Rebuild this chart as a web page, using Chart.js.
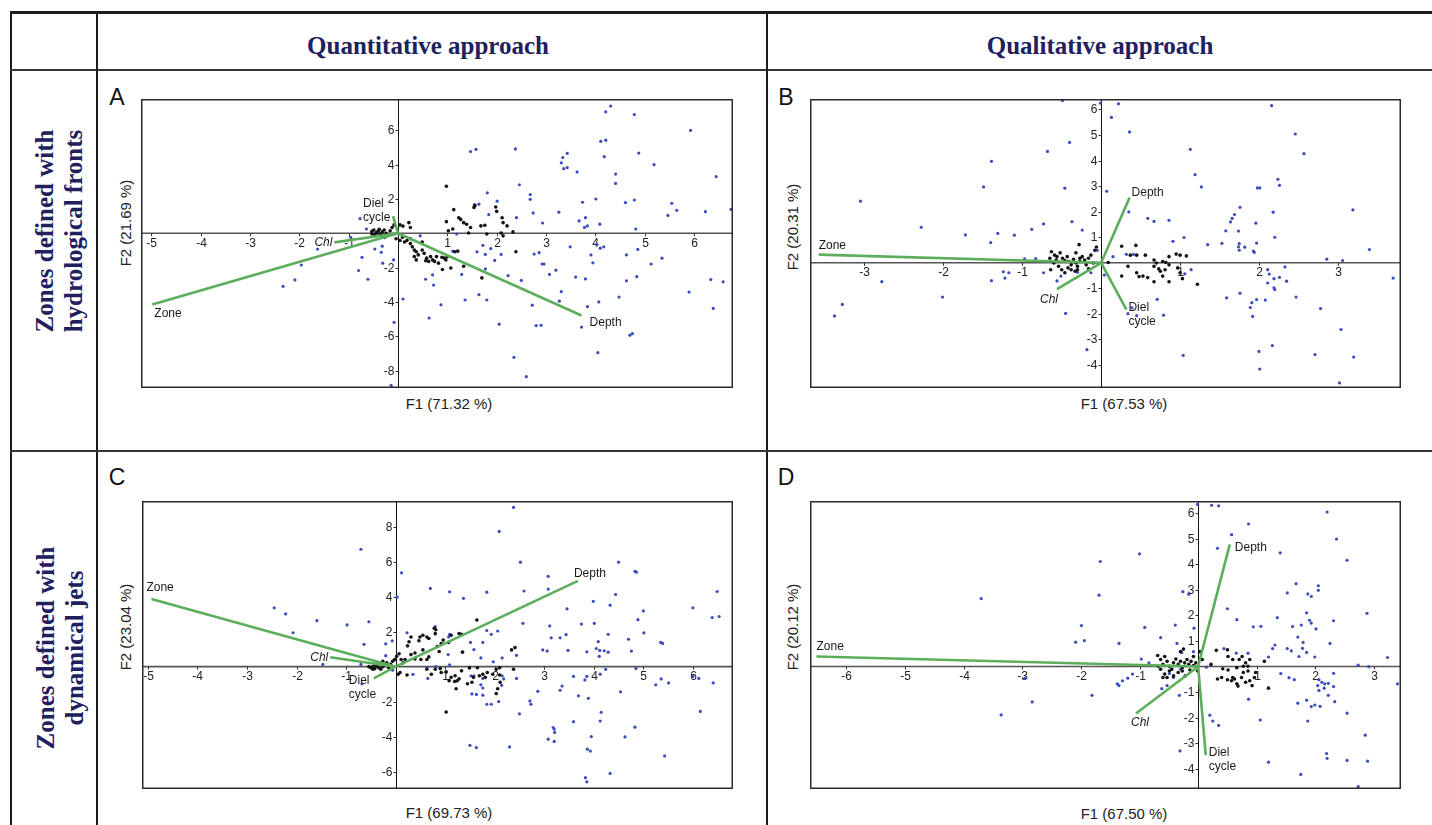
<!DOCTYPE html>
<html><head><meta charset="utf-8">
<script src="https://cdn.jsdelivr.net/npm/chart.js@4.4.1/dist/chart.umd.min.js"></script>
<style>
body{margin:0;background:#fff;}
#wrap{position:relative;width:1432px;height:825px;overflow:hidden;background:#fff;font-family:"Liberation Sans",Arial,sans-serif;}
.ln{position:absolute;background:#1c1c1c;}
.hdr{position:absolute;font-family:"Liberation Serif","Times New Roman",serif;font-weight:bold;font-size:25px;line-height:25px;color:#20205e;white-space:nowrap;transform:translate(-50%,-50%);}
.rowlab{position:absolute;font-family:"Liberation Serif","Times New Roman",serif;font-weight:bold;font-size:25px;line-height:29px;color:#20205e;white-space:nowrap;text-align:center;transform:translate(-50%,-50%) rotate(-90deg);}
.letter{position:absolute;font-size:23px;line-height:23px;color:#111;transform:translate(-50%,-50%);}
.ax{position:absolute;font-size:15px;line-height:15px;color:#222;white-space:nowrap;transform:translate(-50%,-50%);}
.ay{position:absolute;font-size:15px;line-height:15px;color:#222;white-space:nowrap;transform:translate(-50%,-50%) rotate(-90deg);}
canvas{position:absolute;}
</style></head>
<body><div id="wrap">
<div class="ln" style="left:10px;top:11px;width:1422px;height:3px;"></div>
<div class="ln" style="left:10px;top:11px;width:2px;height:814px;"></div>
<div class="ln" style="left:10px;top:69px;width:1422px;height:2px;background:#333;"></div>
<div class="ln" style="left:96px;top:11px;width:2px;height:814px;"></div>
<div class="ln" style="left:766px;top:11px;width:2px;height:814px;"></div>
<div class="ln" style="left:10px;top:450px;width:1422px;height:2px;background:#333;"></div>

<div class="hdr" id="h1" style="left:428px;top:45px;"></div>
<div class="hdr" id="h2" style="left:1100px;top:45px;"></div>
<div class="rowlab" id="r1" style="left:59px;top:231px;"></div>
<div class="rowlab" id="r2" style="left:60px;top:648px;"></div>

<div class="letter" style="left:117px;top:97px;">A</div>
<div class="letter" style="left:786px;top:97px;">B</div>
<div class="letter" style="left:117px;top:477px;">C</div>
<div class="letter" style="left:786px;top:477px;">D</div>

<div class="ax" id="axA" style="left:449px;top:403px;"></div>
<div class="ay" id="ayA" style="left:125px;top:223px;"></div>
<div class="ax" id="axB" style="left:1124px;top:403px;"></div>
<div class="ay" id="ayB" style="left:792px;top:227px;"></div>
<div class="ax" id="axC" style="left:449px;top:812px;"></div>
<div class="ay" id="ayC" style="left:125px;top:627px;"></div>
<div class="ax" id="axD" style="left:1124px;top:813px;"></div>
<div class="ay" id="ayD" style="left:792px;top:627px;"></div>

<canvas id="cA" width="600" height="297" style="left:137px;top:95px;width:600px;height:297px;"></canvas>
<canvas id="cB" width="599" height="297" style="left:806px;top:95px;width:599px;height:297px;"></canvas>
<canvas id="cC" width="599" height="296" style="left:138px;top:497px;width:599px;height:296px;"></canvas>
<canvas id="cD" width="599" height="296" style="left:806px;top:497px;width:599px;height:296px;"></canvas>
</div>
<script>
// ---------- text ----------
const colHeaders = ['Quantitative approach', 'Qualitative approach'];
const rowHeaders = [['Zones defined with', 'hydrological fronts'], ['Zones defined with', 'dynamical jets']];
const vecNames = ['Zone', 'Depth', 'Chl', 'Diel cycle'];

// ---------- panel A ----------
const axisA = ['F1 (71.32 %)', 'F2 (21.69 %)'];
const ticksA_x = [-5, -4, -3, -2, -1, 1, 2, 3, 4, 5, 6];
const ticksA_y = [6, 4, 2, -2, -4, -6, -8];
const vecA = [[-4.98, -4.15], [3.72, -4.79], [-1.29, -0.53], [-0.10, 1.0]];
const blueA = [[4.31,7.42],[4.21,7.08],[4.79,6.92],[5.93,6.0],[4.11,5.36],[4.21,5.43],[1.47,4.77],[1.58,4.89],[2.38,4.92],[3.43,4.66],[4.88,4.68],[3.34,4.42],[4.18,4.47],[3.31,4.11],[5.19,4.0],[3.36,3.77],[3.43,3.83],[3.63,3.58],[4.41,3.45],[6.45,3.30],[4.41,2.91],[2.46,2.83],[1.81,2.36],[2.68,2.26],[2.68,1.98],[2.01,1.87],[3.74,1.81],[4.01,2.0],[4.79,1.94],[4.61,1.79],[1.55,1.68],[1.64,1.70],[5.55,1.75],[5.65,1.34],[5.47,1.04],[6.23,1.26],[6.75,1.40],[3.26,1.23],[2.74,1.19],[1.84,1.09],[2.40,0.91],[2.93,0.60],[3.67,0.72],[3.80,0.91],[3.78,0.34],[3.84,0.43],[4.09,0.53],[4.82,0.25],[-0.77,0.85],[-0.64,0.25],[-0.96,-0.23],[-1.63,-0.92],[-0.73,-1.40],[-0.47,-0.92],[-0.34,-1.11],[-0.32,-0.75],[-0.31,-1.74],[-0.80,-2.17],[-0.61,-2.68],[-1.96,-1.85],[-2.09,-2.72],[-2.33,-3.09],[0.10,-3.83],[-0.09,-1.55],[-0.08,-5.19],[-0.14,-8.87],[0.45,-0.15],[0.56,-2.68],[0.70,-2.42],[0.72,-3.02],[0.87,-4.17],[0.63,-4.94],[1.11,-1.04],[1.19,-0.04],[1.29,-2.40],[1.36,-3.89],[1.64,-3.58],[1.80,-3.89],[1.77,-2.08],[1.72,-0.70],[1.60,-1.08],[1.77,-1.23],[1.88,-0.89],[1.96,-1.58],[2.09,-1.23],[2.23,-2.47],[2.50,-2.75],[2.05,-5.30],[2.35,-7.23],[2.60,-8.36],[2.72,-4.19],[2.76,-1.21],[2.86,-1.13],[2.92,-1.79],[2.96,-1.79],[2.80,-5.38],[2.90,-5.36],[3.07,-2.40],[3.20,-2.15],[3.31,-3.40],[3.27,-3.96],[3.49,-0.79],[3.60,-2.55],[3.80,-2.66],[3.72,-5.47],[3.84,-4.28],[3.91,-1.26],[3.95,-1.72],[4.02,-0.64],[4.10,-0.87],[4.17,-0.79],[4.07,-4.0],[4.05,-6.96],[4.48,-3.72],[4.63,-1.26],[4.63,-2.77],[4.84,-2.53],[4.86,-0.94],[4.70,-5.94],[4.75,-5.85],[5.13,-1.79],[5.35,-1.45],[5.90,-3.43],[6.34,-2.70],[6.59,-2.83],[6.39,-4.38]];
const blackA = [[-0.53,0.11],[-0.49,0.19],[-0.44,0.04],[-0.40,0.15],[-0.36,-0.04],[-0.32,0.08],[-0.28,0.19],[-0.24,0.0],[-0.20,-0.13],[-0.16,0.15],[-0.12,0.34],[-0.08,0.49],[0.04,0.49],[0.10,0.42],[0.22,0.62],[0.25,0.34],[-0.53,-0.04],[-0.47,-0.08],[-0.38,0.23],[-0.42,0.02],[-0.34,-0.13],[-0.27,-0.23],[0.98,2.74],[1.13,1.38],[1.23,0.91],[1.27,0.81],[1.33,0.62],[1.39,0.53],[1.43,0.02],[1.47,0.34],[1.54,1.51],[1.56,1.62],[1.68,0.43],[1.76,0.47],[1.80,-0.04],[1.98,1.53],[2.00,1.28],[2.11,0.91],[2.13,0.62],[2.21,0.43],[2.09,0.02],[2.13,-0.15],[2.33,0.08],[2.39,-1.08],[0.98,0.68],[1.02,0.15],[1.11,0.25],[0.04,-0.42],[0.13,-0.51],[0.18,-0.42],[0.25,-0.60],[0.29,-0.79],[0.33,-0.98],[0.37,-1.08],[0.41,-1.26],[0.49,-0.98],[0.53,-1.17],[0.58,-1.45],[0.62,-1.64],[0.66,-1.36],[0.70,-1.55],[0.74,-1.64],[0.78,-1.36],[0.82,-1.74],[0.89,-1.40],[0.94,-1.45],[0.97,-1.55],[1.00,-1.36],[1.15,-1.08],[1.21,-1.04],[1.33,-1.92],[1.70,-2.60],[1.07,-2.02],[0.90,-2.11],[0.56,-1.60],[0.37,-1.55],[0.33,-1.36],[0.49,-0.51],[0.25,-0.32],[0.09,-0.23],[-0.04,-0.32]];

// ---------- panel B ----------
const axisB = ['F1 (67.53 %)', 'F2 (20.31 %)'];
const ticksB_x = [-3, -2, -1, 1, 2, 3];
const ticksB_y = [6, 5, 4, 3, 2, 1, -1, -2, -3, -4];
const vecB = [[-3.58, 0.32], [0.36, 2.55], [-0.56, -1.03], [0.32, -1.83]];
const blueB = [[-0.49,6.35],[-0.01,6.25],[0.22,6.22],[0.13,5.69],[0.36,5.12],[-0.40,4.71],[-0.68,4.36],[-1.39,3.97],[-0.46,2.92],[-1.49,2.97],[-3.05,2.41],[0.07,2.80],[-2.28,1.39],[-1.72,1.09],[-1.31,1.15],[-1.40,0.79],[-1.10,1.08],[-0.88,1.31],[-0.73,1.52],[-0.37,1.61],[-0.24,1.28],[-2.78,-0.74],[-3.28,-1.63],[-3.38,-2.08],[-2.01,-1.34],[-1.39,-0.70],[-1.22,-0.60],[-1.17,-0.39],[-1.24,-0.35],[-0.45,-1.98],[-0.18,-3.40],[0.35,1.99],[0.59,1.74],[0.67,1.62],[0.86,1.66],[0.91,0.84],[1.05,0.99],[1.13,4.44],[1.19,3.45],[1.27,2.97],[1.35,0.71],[1.53,0.76],[1.14,-0.27],[1.04,-3.62],[0.71,-1.43],[0.79,-2.05],[0.45,-2.07],[0.34,-1.99],[0.39,-1.76],[0.04,-0.48],[1.58,1.25],[1.64,1.60],[1.66,1.74],[1.69,1.89],[1.76,2.17],[1.74,1.24],[1.75,0.75],[1.74,0.62],[1.82,0.61],[1.75,0.49],[1.93,0.46],[1.94,0.41],[1.96,1.55],[1.97,0.77],[1.98,2.93],[2.01,2.93],[2.16,6.15],[2.18,1.98],[2.20,1.0],[2.24,3.27],[2.26,3.03],[2.46,5.04],[2.57,4.27],[2.86,0.14],[3.06,0.09],[3.19,2.07],[3.40,0.52],[3.70,-0.60],[2.11,-0.27],[2.13,-0.44],[2.19,-0.62],[2.11,-0.79],[2.26,-0.57],[2.33,-0.16],[2.35,-0.72],[2.19,-0.98],[2.20,-1.05],[1.59,-1.37],[1.76,-1.19],[1.97,-1.44],[1.91,-1.56],[1.89,-1.75],[1.92,-2.10],[2.08,-1.46],[2.47,-1.34],[2.78,-1.79],[2.00,-3.47],[2.01,-4.16],[2.17,-3.24],[2.71,-3.59],[3.04,-2.61],[3.20,-3.69],[3.02,-4.70],[1.06,-0.43],[-0.73,-0.39],[-0.56,-0.71],[-0.51,-0.52],[-0.30,-0.37],[-0.13,-0.39],[-0.97,0.15],[-0.83,0.16],[-0.05,0.49],[0.15,0.24],[0.32,0.33],[0.41,0.33]];
const blackB = [[-0.63,0.43],[-0.59,0.30],[-0.56,0.24],[-0.52,0.39],[-0.49,0.18],[-0.46,0.09],[-0.43,0.24],[-0.41,0.05],[-0.38,-0.08],[-0.35,0.14],[-0.32,-0.01],[-0.30,-0.14],[-0.27,0.05],[-0.24,0.24],[-0.21,0.11],[-0.19,-0.08],[-0.16,0.18],[-0.13,0.30],[-0.10,-0.01],[-0.08,0.49],[-0.60,-0.01],[-0.54,-0.14],[-0.50,-0.27],[-0.46,-0.39],[-0.42,-0.20],[-0.38,-0.27],[-0.33,-0.33],[-0.30,-0.27],[-0.27,0.18],[-0.64,-0.27],[-0.57,0.11],[-0.16,-0.24],[-0.06,0.62],[-0.28,0.71],[-0.32,0.39],[-0.65,0.18],[0.26,0.65],[0.44,0.68],[0.37,0.30],[0.45,0.30],[0.56,0.30],[0.67,0.11],[0.70,-0.01],[0.78,0.05],[0.82,0.01],[0.86,-0.08],[0.67,-0.14],[0.73,-0.24],[0.75,-0.33],[0.81,-0.27],[0.86,0.24],[0.95,0.34],[1.00,0.30],[1.08,0.27],[0.97,-0.20],[1.00,-0.39],[0.86,-0.74],[0.78,-0.52],[0.67,-0.74],[0.59,-0.58],[0.53,-0.52],[0.48,-0.54],[0.45,-0.39],[0.34,-0.14],[0.26,-0.52],[1.03,-0.62],[1.22,-0.84],[0.09,0.01]];

// ---------- panel C ----------
const axisC = ['F1 (69.73 %)', 'F2 (23.04 %)'];
const ticksC_x = [-5, -4, -3, -2, -1, 1, 2, 3, 4, 5, 6];
const ticksC_y = [8, 6, 4, 2, -2, -4, -6];
const vecC = [[-4.93, 3.87], [3.68, 4.91], [-1.32, 0.54], [-0.44, -0.67]];
const blueC = [[2.38,9.11],[2.09,7.74],[-0.70,6.72],[2.52,5.98],[4.50,5.98],[0.12,5.37],[4.83,5.46],[4.86,5.41],[3.08,5.17],[0.70,4.48],[1.09,4.28],[1.84,4.26],[2.59,4.33],[3.08,4.44],[6.49,4.30],[0.03,3.98],[1.37,3.91],[4.44,4.13],[3.99,3.74],[4.33,3.52],[6.0,3.37],[3.46,3.31],[5.0,3.19],[6.39,2.81],[6.53,2.87],[4.89,2.69],[2.57,2.48],[4.01,2.48],[3.75,2.44],[3.11,2.33],[1.84,2.07],[2.06,2.04],[1.93,1.85],[5.01,1.93],[4.29,1.85],[3.44,1.83],[3.14,1.65],[3.32,1.65],[4.70,1.57],[5.35,1.39],[5.39,1.33],[4.09,1.43],[1.76,1.39],[1.51,1.39],[2.97,0.96],[3.06,0.89],[3.48,0.93],[3.86,0.85],[4.05,1.04],[4.12,0.93],[4.21,0.91],[4.29,0.83],[4.11,0.59],[4.76,0.89],[2.44,0.65],[2.15,0.50],[1.97,0.28],[1.58,0.98],[1.72,0.50],[1.06,0.69],[1.07,1.70],[1.09,1.85],[0.80,2.30],[0.23,1.94],[-0.07,1.48],[-0.20,1.31],[-0.64,1.28],[-0.54,2.57],[-0.98,2.39],[-1.59,2.63],[-2.07,1.94],[-2.22,3.02],[-2.45,3.37],[-1.47,0.13],[-0.70,0.13],[-0.68,-0.98],[-0.20,0.63],[-0.06,-0.20],[0.35,-0.44],[0.63,-0.06],[0.81,0.0],[0.65,-0.67],[1.09,0.11],[1.52,-0.52],[1.58,-0.52],[1.76,-0.67],[1.72,-1.04],[1.54,-1.56],[1.63,-1.59],[1.76,-1.22],[1.76,-1.63],[1.84,-2.15],[1.93,-2.15],[2.08,-2.0],[2.15,-0.52],[2.18,-0.70],[2.14,-1.07],[2.44,-0.67],[2.50,-2.70],[2.73,-2.15],[2.71,-1.96],[2.87,-1.41],[1.50,-4.50],[1.63,-4.63],[2.30,-4.59],[3.18,-3.48],[3.21,-3.76],[3.20,-3.57],[3.08,-4.15],[3.20,-4.28],[3.32,-1.35],[3.36,-1.11],[3.59,-0.56],[3.59,-3.15],[3.69,-1.67],[3.82,-0.76],[3.86,-0.56],[3.89,-1.81],[3.95,-4.0],[3.87,-4.72],[3.93,-4.83],[3.83,-6.35],[3.86,-6.59],[4.13,-0.43],[4.24,-0.15],[4.15,-2.61],[4.13,-3.11],[4.54,-1.44],[4.63,-4.02],[4.33,-6.11],[4.83,-3.46],[4.85,-0.11],[5.25,-1.04],[5.36,-0.70],[5.51,-0.93],[5.43,-5.11],[6.12,-0.67],[6.15,-2.56],[6.41,-0.93],[6.0,-0.56]];
const blackC = [[-0.50,-0.06],[-0.46,0.0],[-0.42,-0.11],[-0.38,0.04],[-0.34,-0.06],[-0.30,-0.15],[-0.26,0.0],[-0.22,0.09],[-0.18,0.22],[-0.14,-0.06],[-0.10,0.13],[-0.06,0.31],[-0.02,0.41],[0.02,0.59],[0.07,0.74],[0.11,0.41],[0.15,0.22],[0.19,0.41],[-0.26,0.31],[-0.46,-0.15],[-0.41,0.13],[0.05,-0.43],[0.09,-0.33],[0.23,-0.48],[-0.54,0.0],[0.24,1.19],[0.27,1.43],[0.31,1.70],[0.47,1.48],[0.49,1.70],[0.55,1.80],[0.63,1.70],[0.67,1.61],[0.78,2.20],[0.81,2.11],[0.80,1.89],[0.84,1.15],[0.92,1.33],[0.96,1.52],[1.07,1.39],[1.12,1.80],[1.28,1.89],[1.33,1.85],[1.64,2.67],[0.88,0.87],[0.55,0.96],[0.39,0.44],[0.51,0.41],[0.63,0.41],[0.39,0.78],[2.41,1.09],[2.34,0.96],[1.35,0.83],[0.31,0.69],[0.67,0.56],[0.90,-0.11],[1.02,-0.30],[1.08,-0.80],[1.12,-0.61],[1.20,-0.52],[1.24,-0.81],[1.28,-0.70],[1.33,-0.24],[1.49,-0.07],[1.54,-0.89],[1.57,-0.61],[1.65,-0.06],[1.69,-0.52],[1.76,-0.43],[1.81,-0.61],[1.85,-0.33],[1.96,-0.43],[2.03,-0.15],[2.10,-0.06],[2.10,-0.48],[2.11,-0.89],[2.03,-1.54],[2.06,-1.26],[2.38,-0.15],[1.02,-2.59],[1.22,-1.26],[1.19,-0.85],[1.45,-0.98],[0.80,-0.15],[0.92,-0.33],[0.63,-0.15],[0.72,-0.43]];

// ---------- panel D ----------
const axisD = ['F1 (67.50 %)', 'F2 (20.12 %)'];
const ticksD_x = [-6, -5, -4, -3, -2, -1, 1, 2, 3];
const ticksD_y = [6, 5, 4, 3, 2, 1, -1, -2, -3, -4];
const vecD = [[-6.51, 0.39], [0.54, 4.78], [-1.06, -1.84], [0.13, -3.47]];
const blueD = [[-0.01,6.35],[0.23,6.31],[0.35,6.29],[2.20,6.05],[0.86,5.58],[0.57,5.16],[2.36,4.99],[0.33,4.63],[-1.0,4.41],[1.40,4.45],[-1.67,4.11],[2.54,4.16],[1.67,3.24],[2.05,3.16],[2.05,2.98],[-0.26,2.93],[-0.16,2.83],[-1.69,2.79],[-3.70,2.66],[1.52,2.88],[1.87,2.84],[1.93,2.74],[0.50,2.26],[1.35,1.91],[2.88,2.08],[1.85,2.10],[1.90,1.81],[1.93,1.70],[2.31,1.79],[0.66,1.83],[0.94,1.55],[1.07,1.57],[1.61,1.56],[1.76,1.62],[2.01,1.47],[-1.99,1.60],[-0.91,1.53],[-0.39,1.62],[-0.07,1.50],[1.70,1.15],[1.79,0.94],[1.78,0.71],[2.25,0.90],[1.31,0.84],[1.27,0.70],[1.52,0.70],[1.59,0.61],[1.72,0.39],[1.85,0.55],[1.99,0.37],[1.20,0.37],[3.23,0.35],[2.73,0.05],[2.91,-0.01],[3.40,-0.68],[-2.09,0.95],[-1.94,1.01],[-1.35,0.90],[-0.64,1.13],[-0.36,0.90],[-0.28,0.55],[-0.08,0.58],[0.44,0.70],[0.65,0.52],[0.85,0.52],[-0.97,0.29],[-0.84,0.14],[1.41,-0.28],[1.55,-0.44],[1.64,-0.52],[2.06,-0.52],[2.11,-0.62],[2.16,-0.68],[2.04,-0.75],[2.22,-0.66],[2.31,-0.79],[2.15,-0.85],[2.06,-0.94],[2.22,-1.13],[2.31,-0.27],[2.33,-1.38],[1.85,-1.32],[1.70,-1.44],[1.99,-1.51],[1.93,-1.57],[2.08,-1.56],[2.54,-1.83],[1.87,-2.14],[0.86,-1.28],[1.06,-2.10],[0.20,-1.91],[0.25,-2.14],[0.35,-2.31],[-0.32,-1.13],[-0.31,-3.31],[1.20,-3.75],[2.19,-3.41],[2.20,-3.60],[2.54,-3.68],[2.85,-2.69],[2.89,-3.71],[1.75,-4.23],[2.73,-4.71],[-1.38,-0.68],[-1.35,-0.75],[-1.29,-0.56],[-1.20,-0.46],[-1.12,-0.30],[-1.81,-1.13],[-2.83,-1.39],[-2.96,-0.47],[-3.36,-1.90],[-0.62,-0.87],[-0.53,-0.75],[-0.30,-0.11],[-0.42,-0.43],[-0.49,-0.28],[0.14,-0.03]];
const blackD = [[-0.69,0.43],[-0.64,0.27],[-0.60,0.08],[-0.57,0.39],[-0.53,0.20],[-0.49,0.01],[-0.45,-0.11],[-0.42,0.14],[-0.38,0.29],[-0.34,0.08],[-0.30,0.20],[-0.27,-0.05],[-0.23,0.14],[-0.19,0.27],[-0.16,0.08],[-0.12,0.20],[-0.08,0.39],[-0.04,0.14],[0.03,0.58],[0.07,0.27],[-0.64,-0.11],[-0.57,-0.30],[-0.53,-0.43],[-0.49,-0.18],[-0.42,-0.37],[-0.34,-0.24],[-0.27,-0.18],[-0.22,-0.37],[-0.60,-0.43],[-0.68,0.01],[-0.01,-0.18],[-0.30,0.58],[-0.25,0.68],[-0.08,0.04],[-0.14,-0.14],[0.31,0.63],[0.50,0.65],[0.51,0.39],[0.59,0.27],[0.70,0.27],[0.75,0.39],[0.81,0.14],[0.85,0.01],[0.88,0.27],[0.42,-0.09],[0.51,-0.14],[0.59,-0.43],[0.33,-0.49],[0.40,-0.43],[0.50,-0.52],[0.57,-0.56],[0.62,-0.49],[0.66,-0.68],[0.68,-0.77],[0.74,-0.43],[0.77,-0.24],[0.81,-0.62],[0.88,-0.56],[0.92,-0.75],[0.96,-0.43],[0.98,-0.24],[1.13,0.20],[1.20,-0.85],[0.22,0.08],[0.66,-0.05],[0.77,0.01],[0.85,-0.18]];

// ---------- build ----------
document.getElementById('h1').textContent = colHeaders[0];
document.getElementById('h2').textContent = colHeaders[1];
document.getElementById('r1').innerHTML = rowHeaders[0].join('<br>');
document.getElementById('r2').innerHTML = rowHeaders[1].join('<br>');

const GREEN = '#5cae5c', BLUE = '#3b4cc0', BLACK = '#111111';
const FONT = '"Liberation Sans", Arial, Helvetica, sans-serif';

function makeBiplot(cfg) {
  return {
    id: 'biplot',
    beforeDatasetsDraw(chart) {
      const {ctx, chartArea: a, scales: {x, y}} = chart;
      const x0 = Math.round(x.getPixelForValue(0)) + 0.5;
      const y0 = y.getPixelForValue(0);
      ctx.save();
      ctx.strokeStyle = '#555'; ctx.lineWidth = 1.6;
      ctx.beginPath(); ctx.moveTo(a.left, y0); ctx.lineTo(a.right, y0); ctx.stroke();
      ctx.strokeStyle = '#111'; ctx.lineWidth = 1;
      ctx.beginPath(); ctx.moveTo(x0, a.top); ctx.lineTo(x0, a.bottom); ctx.stroke();
      ctx.font = '12px ' + FONT; ctx.fillStyle = '#222'; ctx.strokeStyle = '#333';
      ctx.textAlign = 'center'; ctx.textBaseline = 'top';
      cfg.xTicks.forEach(v => {
        const px = Math.round(x.getPixelForValue(v)) + 0.5;
        ctx.beginPath(); ctx.moveTo(px, y0); ctx.lineTo(px, y0 + 3); ctx.stroke();
        ctx.fillText(String(v), px, y0 + 4);
      });
      ctx.textAlign = 'right'; ctx.textBaseline = 'middle';
      cfg.yTicks.forEach(v => {
        const py = Math.round(y.getPixelForValue(v)) + 0.5;
        ctx.beginPath(); ctx.moveTo(x0 - 3, py); ctx.lineTo(x0, py); ctx.stroke();
        ctx.fillText(String(v), x0 - 4, py);
      });
      ctx.restore();
    },
    afterDatasetsDraw(chart) {
      const {ctx, chartArea: a, scales: {x, y}} = chart;
      ctx.save();
      ctx.strokeStyle = '#2a2a2a'; ctx.lineWidth = 1.5;
      ctx.strokeRect(a.left + 0.75, a.top + 0.75, a.right - a.left - 1.5, a.bottom - a.top - 1.5);
      ctx.fillStyle = '#1a1a1a'; ctx.textBaseline = 'middle';
      cfg.vectors.forEach((v, i) => {
        const s = cfg.labelPos[i];
        const px = x.getPixelForValue(v[0]) + s.dx;
        const py = y.getPixelForValue(v[1]);
        ctx.font = (vecNames[i] === 'Chl' ? 'italic ' : '') + '12px ' + FONT;
        ctx.textAlign = s.align;
        const lines = vecNames[i] === 'Diel cycle' ? ['Diel', 'cycle'] : [vecNames[i]];
        lines.forEach((t, k) => ctx.fillText(t, px, py + s.dy + k * 14));
      });
      ctx.restore();
    }
  };
}

function panel(id, axis, axId, ayId, blue, black, vectors, xTicks, yTicks, xr, yr, labelPos) {
  document.getElementById(axId).textContent = axis[0];
  document.getElementById(ayId).textContent = axis[1];
  const datasets = vectors.map((v, i) => ({
    label: vecNames[i],
    data: [{x: 0, y: 0}, {x: v[0], y: v[1]}],
    showLine: true, borderColor: GREEN, borderWidth: 2.6, pointRadius: 0, order: 0, borderCapStyle: 'butt'
  }));
  datasets.push({label: 'black', data: black.map(p => ({x: p[0], y: p[1]})), pointRadius: 1.8,
    backgroundColor: BLACK, borderColor: BLACK, borderWidth: 0, order: 1});
  datasets.push({label: 'blue', data: blue.map(p => ({x: p[0], y: p[1]})), pointRadius: 1.6,
    backgroundColor: BLUE, borderColor: BLUE, borderWidth: 0, order: 2});
  new Chart(document.getElementById(id), {
    type: 'scatter',
    data: {datasets},
    options: {
      responsive: false, animation: false, devicePixelRatio: 1, events: [],
      layout: {padding: 0},
      plugins: {legend: {display: false}, tooltip: {enabled: false}},
      scales: {
        x: {type: 'linear', min: xr[0], max: xr[1], display: false},
        y: {type: 'linear', min: yr[0], max: yr[1], display: false}
      }
    },
    plugins: [makeBiplot({vectors, xTicks, yTicks, labelPos})]
  });
}

panel('cA', axisA, 'axA', 'ayA', blueA, blackA, vecA, ticksA_x, ticksA_y, [-5.21, 6.79], [-9.02, 7.83],
  [{dx: 2, dy: 9, align: 'left'}, {dx: 8, dy: 7, align: 'left'}, {dx: -2, dy: 0, align: 'right'}, {dx: -30, dy: -12, align: 'left'}]);
panel('cB', axisB, 'axB', 'ayB', blueB, blackB, vecB, ticksB_x, ticksB_y, [-3.69, 3.80], [-4.90, 6.41],
  [{dx: 0, dy: -9, align: 'left'}, {dx: 2, dy: -5, align: 'left'}, {dx: -8, dy: 11, align: 'center'}, {dx: 2, dy: -2, align: 'left'}]);
panel('cC', axisC, 'axC', 'ayC', blueC, blackC, vecC, ticksC_x, ticksC_y, [-5.12, 6.81], [-7.0, 9.48],
  [{dx: -5, dy: -11, align: 'left'}, {dx: -4, dy: -7, align: 'left'}, {dx: -2, dy: 0, align: 'right'}, {dx: -25, dy: 2, align: 'left'}]);
panel('cD', axisD, 'axD', 'ayD', blueD, blackD, vecD, ticksD_x, ticksD_y, [-6.62, 3.46], [-4.80, 6.48],
  [{dx: 0, dy: -10, align: 'left'}, {dx: 5, dy: 3, align: 'left'}, {dx: 4, dy: 9, align: 'center'}, {dx: 3, dy: -2, align: 'left'}]);
</script>
</body></html>
